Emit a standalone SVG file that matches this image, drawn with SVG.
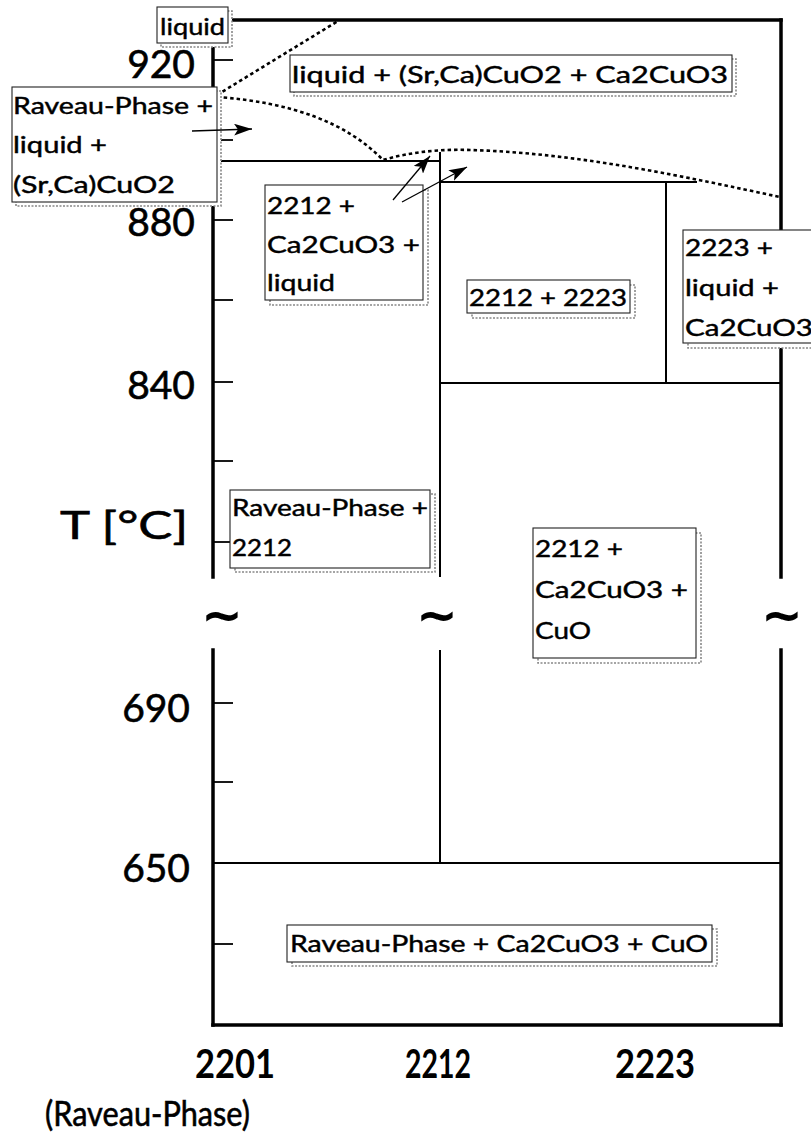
<svg xmlns="http://www.w3.org/2000/svg" width="811" height="1139" viewBox="0 0 811 1139">
<defs>
<style>
.ax{stroke:#000;stroke-width:3.5;fill:none;stroke-linecap:square}
.ln{stroke:#000;stroke-width:2;fill:none}
.tk{stroke:#000;stroke-width:1.8;fill:none}
.dot{stroke:#000;stroke-width:2.6;fill:none;stroke-dasharray:3.5 3}
.box{fill:#fff;stroke:#222;stroke-width:1.1}
.sh{fill:#fff;stroke:#888;stroke-width:1.6;stroke-dasharray:2 1.5}
.t{font-family:Lato,"Open Sans","DejaVu Sans",sans-serif;font-size:24px;fill:#000;stroke:#000;stroke-width:0.45}
.big{font-family:Lato,"Open Sans","DejaVu Sans",sans-serif;font-size:39px;fill:#000;stroke:#000;stroke-width:0.6}
.bold{font-family:Lato,"Open Sans","DejaVu Sans",sans-serif;font-size:40px;font-weight:bold;fill:#000}
.tl{font-family:"DejaVu Sans",sans-serif;font-size:50px;font-weight:bold;fill:#000}
.arr{stroke:#000;stroke-width:1.3;fill:none}
</style>
<marker id="ah" markerUnits="userSpaceOnUse" markerWidth="20" markerHeight="12" refX="18" refY="6" orient="auto">
<path d="M0,0 L18,6 L0,12 L4,6 Z" fill="#000"/>
</marker>
</defs>
<rect width="811" height="1139" fill="#fff"/>

<g id="frame">
<line class="ax" x1="213" y1="20" x2="213" y2="577"/>
<line class="ax" x1="213" y1="650" x2="213" y2="1025"/>
<line class="ax" x1="213" y1="20" x2="781" y2="20"/>
<line class="ax" x1="781" y1="20" x2="781" y2="577"/>
<line class="ax" x1="781" y1="650" x2="781" y2="1025"/>
<line class="ax" x1="213" y1="1025" x2="781" y2="1025"/>
<line class="ln" x1="440" y1="152" x2="440" y2="577"/>
<line class="ln" x1="440" y1="650" x2="440" y2="863"/>
<line class="ln" x1="213" y1="161" x2="441" y2="161"/>
<line class="ln" x1="440" y1="182" x2="697" y2="182"/>
<line class="ln" x1="666" y1="182" x2="666" y2="383"/>
<line class="ln" x1="440" y1="383" x2="781" y2="383"/>
<line class="ln" x1="213" y1="863" x2="781" y2="863"/>
<g id="ticks">
<line class="tk" x1="213" y1="60" x2="233" y2="60"/>
<line class="tk" x1="213" y1="140" x2="233" y2="140"/>
<line class="tk" x1="213" y1="220" x2="233" y2="220"/>
<line class="tk" x1="213" y1="300" x2="233" y2="300"/>
<line class="tk" x1="213" y1="382" x2="233" y2="382"/>
<line class="tk" x1="213" y1="461" x2="233" y2="461"/>
<line class="tk" x1="213" y1="542" x2="233" y2="542"/>
<line class="tk" x1="213" y1="703" x2="233" y2="703"/>
<line class="tk" x1="213" y1="782" x2="233" y2="782"/>
<line class="tk" x1="213" y1="944" x2="233" y2="944"/>
</g>
<path class="dot" d="M217,95 L338,21"/>
<path class="dot" d="M217,97 Q330,105 383,160 C410,152 440,149 470,150 C580,153 690,178 780,197"/>
</g>

<g id="axis-labels">
<text class="big" x="195" y="78" text-anchor="end">920</text>
<text class="big" x="195" y="236" text-anchor="end">880</text>
<text class="big" x="195" y="399" text-anchor="end">840</text>
<text class="big" x="60" y="539" textLength="128" lengthAdjust="spacingAndGlyphs">T [°C]</text>
<text class="big" x="190" y="722" text-anchor="end">690</text>
<text class="big" x="190" y="882" text-anchor="end">650</text>
<text class="tl" x="222" y="632" text-anchor="middle">~</text>
<text class="tl" x="437" y="632" text-anchor="middle">~</text>
<text class="tl" x="782" y="632" text-anchor="middle">~</text>
<text class="bold" x="195" y="1078" textLength="80" lengthAdjust="spacingAndGlyphs">2201</text>
<text class="bold" x="405" y="1078" textLength="66" lengthAdjust="spacingAndGlyphs">2212</text>
<text class="bold" x="615" y="1078" textLength="80" lengthAdjust="spacingAndGlyphs">2223</text>
<text class="big" x="45" y="1126" style="font-size:35px" textLength="205" lengthAdjust="spacingAndGlyphs">(Raveau-Phase)</text>
</g>

<g id="node-liquid">
<rect class="sh" x="161" y="11" width="71" height="36"/>
<rect class="box" x="157" y="7" width="71" height="36"/>
<text class="t" x="160" y="35" textLength="65" lengthAdjust="spacingAndGlyphs">liquid</text>
</g>
<g id="node-rp-liquid-srca">
<rect class="sh" x="16" y="91" width="205" height="115"/>
<rect class="box" x="12" y="87" width="205" height="115"/>
<text class="t" x="13" y="114" textLength="200" lengthAdjust="spacingAndGlyphs">Raveau-Phase +</text>
<text class="t" x="13" y="153" textLength="94" lengthAdjust="spacingAndGlyphs">liquid +</text>
<text class="t" x="13" y="193" textLength="162" lengthAdjust="spacingAndGlyphs">(Sr,Ca)CuO2</text>
</g>
<g id="node-liquid-srca-ca2">
<rect class="sh" x="294" y="59" width="442" height="37"/>
<rect class="box" x="290" y="55" width="442" height="37"/>
<text class="t" x="292" y="83" textLength="436" lengthAdjust="spacingAndGlyphs">liquid + (Sr,Ca)CuO2 + Ca2CuO3</text>
</g>
<g id="node-2212-ca2-liquid">
<rect class="sh" x="270" y="190" width="158" height="115"/>
<rect class="box" x="265" y="185" width="158" height="115"/>
<text class="t" x="267" y="214" textLength="88" lengthAdjust="spacingAndGlyphs">2212 +</text>
<text class="t" x="267" y="253" textLength="153" lengthAdjust="spacingAndGlyphs">Ca2CuO3 +</text>
<text class="t" x="267" y="291" textLength="68" lengthAdjust="spacingAndGlyphs">liquid</text>
</g>
<g id="node-2212-2223">
<rect class="sh" x="472" y="285" width="163" height="33"/>
<rect class="box" x="467" y="280" width="163" height="33"/>
<text class="t" x="469" y="306" textLength="158" lengthAdjust="spacingAndGlyphs">2212 + 2223</text>
</g>
<g id="node-2223-liquid-ca2">
<rect class="sh" x="688" y="235" width="140" height="113"/>
<rect class="box" x="683" y="230" width="140" height="113"/>
<text class="t" x="685" y="256" textLength="88" lengthAdjust="spacingAndGlyphs">2223 +</text>
<text class="t" x="685" y="296" textLength="94" lengthAdjust="spacingAndGlyphs">liquid +</text>
<text class="t" x="685" y="336" textLength="128" lengthAdjust="spacingAndGlyphs">Ca2CuO3</text>
</g>
<g id="node-rp-2212">
<rect class="sh" x="235" y="494" width="200" height="78"/>
<rect class="box" x="230" y="490" width="200" height="78"/>
<text class="t" x="232" y="516" textLength="196" lengthAdjust="spacingAndGlyphs">Raveau-Phase +</text>
<text class="t" x="232" y="556" textLength="60" lengthAdjust="spacingAndGlyphs">2212</text>
</g>
<g id="node-2212-ca2-cuo">
<rect class="sh" x="538" y="533" width="163" height="130"/>
<rect class="box" x="533" y="528" width="163" height="130"/>
<text class="t" x="535" y="557" textLength="88" lengthAdjust="spacingAndGlyphs">2212 +</text>
<text class="t" x="535" y="598" textLength="153" lengthAdjust="spacingAndGlyphs">Ca2CuO3 +</text>
<text class="t" x="535" y="639" textLength="56" lengthAdjust="spacingAndGlyphs">CuO</text>
</g>
<g id="node-rp-ca2-cuo">
<rect class="sh" x="292" y="929" width="425" height="37"/>
<rect class="box" x="287" y="925" width="425" height="37"/>
<text class="t" x="290" y="952" textLength="418" lengthAdjust="spacingAndGlyphs">Raveau-Phase + Ca2CuO3 + CuO</text>
</g>

<g id="connectors">
<line class="arr" x1="192" y1="131" x2="252" y2="129" marker-end="url(#ah)"/>
<line class="arr" x1="393" y1="200" x2="430" y2="156" marker-end="url(#ah)"/>
<line class="arr" x1="402" y1="202" x2="467" y2="167" marker-end="url(#ah)"/>
</g>
</svg>
